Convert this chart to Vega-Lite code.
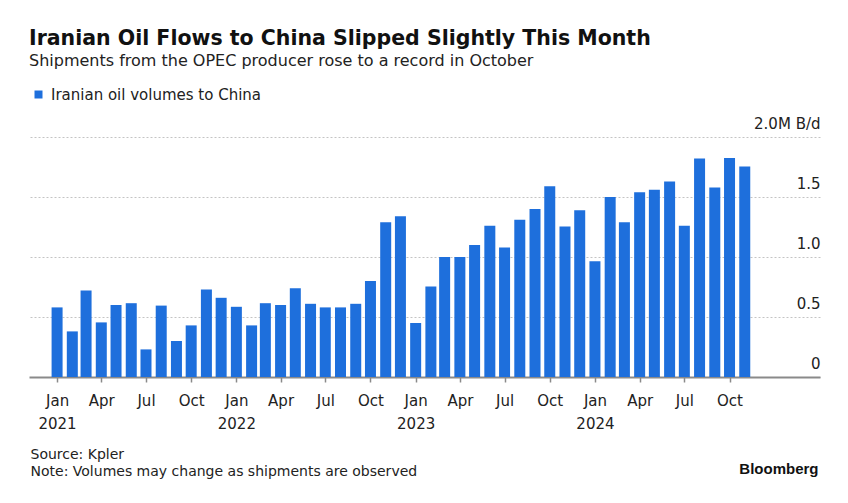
{
  "$schema": "https://vega.github.io/schema/vega-lite/v6.json",
  "width": 791,
  "height": 240,
  "autosize": {"type": "none"},
  "padding": {"left": 29, "top": 137, "right": 28, "bottom": 126},
  "background": "white",
  "title": {
    "text": "Iranian Oil Flows to China Slipped Slightly This Month",
    "subtitle": "Shipments from the OPEC producer rose to a record in October",
    "anchor": "start",
    "frame": "group",
    "font": "DejaVu Sans",
    "fontSize": 20.5,
    "fontWeight": "bold",
    "color": "#111111",
    "subtitleFont": "DejaVu Sans",
    "subtitleFontSize": 16,
    "subtitleColor": "#222222",
    "subtitlePadding": 4,
    "offset": 18
  },
  "data": {
    "values": [
      {"date": "2021-01-01", "value": 0.58},
      {"date": "2021-02-01", "value": 0.38},
      {"date": "2021-03-01", "value": 0.72},
      {"date": "2021-04-01", "value": 0.455},
      {"date": "2021-05-01", "value": 0.60},
      {"date": "2021-06-01", "value": 0.615},
      {"date": "2021-07-01", "value": 0.23},
      {"date": "2021-08-01", "value": 0.595},
      {"date": "2021-09-01", "value": 0.30},
      {"date": "2021-10-01", "value": 0.43},
      {"date": "2021-11-01", "value": 0.73},
      {"date": "2021-12-01", "value": 0.66},
      {"date": "2022-01-01", "value": 0.585},
      {"date": "2022-02-01", "value": 0.43},
      {"date": "2022-03-01", "value": 0.615},
      {"date": "2022-04-01", "value": 0.60},
      {"date": "2022-05-01", "value": 0.74},
      {"date": "2022-06-01", "value": 0.61},
      {"date": "2022-07-01", "value": 0.58},
      {"date": "2022-08-01", "value": 0.58},
      {"date": "2022-09-01", "value": 0.61},
      {"date": "2022-10-01", "value": 0.80},
      {"date": "2022-11-01", "value": 1.29},
      {"date": "2022-12-01", "value": 1.34},
      {"date": "2023-01-01", "value": 0.45},
      {"date": "2023-02-01", "value": 0.755},
      {"date": "2023-03-01", "value": 1.0},
      {"date": "2023-04-01", "value": 1.0},
      {"date": "2023-05-01", "value": 1.10},
      {"date": "2023-06-01", "value": 1.26},
      {"date": "2023-07-01", "value": 1.08},
      {"date": "2023-08-01", "value": 1.31},
      {"date": "2023-09-01", "value": 1.40},
      {"date": "2023-10-01", "value": 1.59},
      {"date": "2023-11-01", "value": 1.255},
      {"date": "2023-12-01", "value": 1.39},
      {"date": "2024-01-01", "value": 0.965},
      {"date": "2024-02-01", "value": 1.50},
      {"date": "2024-03-01", "value": 1.29},
      {"date": "2024-04-01", "value": 1.54},
      {"date": "2024-05-01", "value": 1.56},
      {"date": "2024-06-01", "value": 1.63},
      {"date": "2024-07-01", "value": 1.26},
      {"date": "2024-08-01", "value": 1.82},
      {"date": "2024-09-01", "value": 1.58},
      {"date": "2024-10-01", "value": 1.825},
      {"date": "2024-11-01", "value": 1.755}
    ]
  },
  "mark": {"type": "bar", "width": 11},
  "encoding": {
    "x": {
      "field": "date",
      "type": "temporal",
      "scale": {
        "type": "utc",
        "domain": [
          {"year": 2020, "month": 11, "date": 15, "utc": true},
          {"year": 2025, "month": 3, "date": 24, "utc": true}
        ]
      },
      "axis": {
        "values": [
          {"year": 2021, "month": 1, "date": 1, "utc": true},
          {"year": 2021, "month": 4, "date": 1, "utc": true},
          {"year": 2021, "month": 7, "date": 1, "utc": true},
          {"year": 2021, "month": 10, "date": 1, "utc": true},
          {"year": 2022, "month": 1, "date": 1, "utc": true},
          {"year": 2022, "month": 4, "date": 1, "utc": true},
          {"year": 2022, "month": 7, "date": 1, "utc": true},
          {"year": 2022, "month": 10, "date": 1, "utc": true},
          {"year": 2023, "month": 1, "date": 1, "utc": true},
          {"year": 2023, "month": 4, "date": 1, "utc": true},
          {"year": 2023, "month": 7, "date": 1, "utc": true},
          {"year": 2023, "month": 10, "date": 1, "utc": true},
          {"year": 2024, "month": 1, "date": 1, "utc": true},
          {"year": 2024, "month": 4, "date": 1, "utc": true},
          {"year": 2024, "month": 7, "date": 1, "utc": true},
          {"year": 2024, "month": 10, "date": 1, "utc": true}
        ],
        "labelExpr": "utcmonth(datum.value) == 0 ? [utcFormat(datum.value, '%b'), utcFormat(datum.value, '%Y')] : utcFormat(datum.value, '%b')",
        "labelFont": "DejaVu Sans",
        "labelFontSize": 15,
        "labelColor": "#222222",
        "labelLineHeight": 23,
        "labelPadding": 11,
        "labelAlign": "center",
        "labelFlush": false,
        "labelOverlap": false,
        "grid": false,
        "domainColor": "#8a8a8a",
        "domainWidth": 2,
        "tickColor": "#8a8a8a",
        "tickSize": 5,
        "tickWidth": 1.5,
        "title": ["Source: Kpler", "Note: Volumes may change as shipments are observed"],
        "titleFont": "DejaVu Sans",
        "titleFontSize": 14,
        "titleFontWeight": "normal",
        "titleColor": "#222222",
        "titleAlign": "left",
        "titleAnchor": "start",
        "titleBaseline": "top",
        "titleLineHeight": 17,
        "titleX": 1,
        "titleY": 70
      }
    },
    "y": {
      "field": "value",
      "type": "quantitative",
      "scale": {"domain": [0, 2], "nice": false},
      "axis": {
        "orient": "right",
        "values": [0, 0.5, 1, 1.5, 2],
        "labelExpr": "datum.value == 2 ? '2.0M B/d' : datum.value == 0 ? '0' : format(datum.value, '.1f')",
        "labelFont": "DejaVu Sans",
        "labelFontSize": 15,
        "labelColor": "#222222",
        "labelAlign": "right",
        "labelBaseline": "bottom",
        "labelOffset": -6,
        "labelPadding": 0,
        "ticks": false,
        "tickSize": 0,
        "domain": false,
        "grid": true,
        "gridColor": "#c4c4c4",
        "gridDash": [2, 2],
        "gridWidth": 1,
        "title": "Bloomberg",
        "titleAngle": 0,
        "titleFont": "Liberation Sans",
        "titleFontSize": 15,
        "titleFontWeight": "bold",
        "titleColor": "#111111",
        "titleAlign": "right",
        "titleBaseline": "middle",
        "titleX": -2,
        "titleY": 331
      }
    },
    "color": {
      "datum": "Iranian oil volumes to China",
      "type": "nominal",
      "scale": {"range": ["#1e6fdc"]},
      "legend": {
        "orient": "none",
        "legendX": 2,
        "legendY": -50,
        "title": null,
        "symbolType": "square",
        "symbolSize": 64,
        "symbolStrokeWidth": 0,
        "labelFont": "DejaVu Sans",
        "labelFontSize": 15,
        "labelColor": "#222222",
        "labelOffset": 5,
        "labelLimit": 0
      }
    }
  },
  "config": {
    "view": {"stroke": null}
  }
}
